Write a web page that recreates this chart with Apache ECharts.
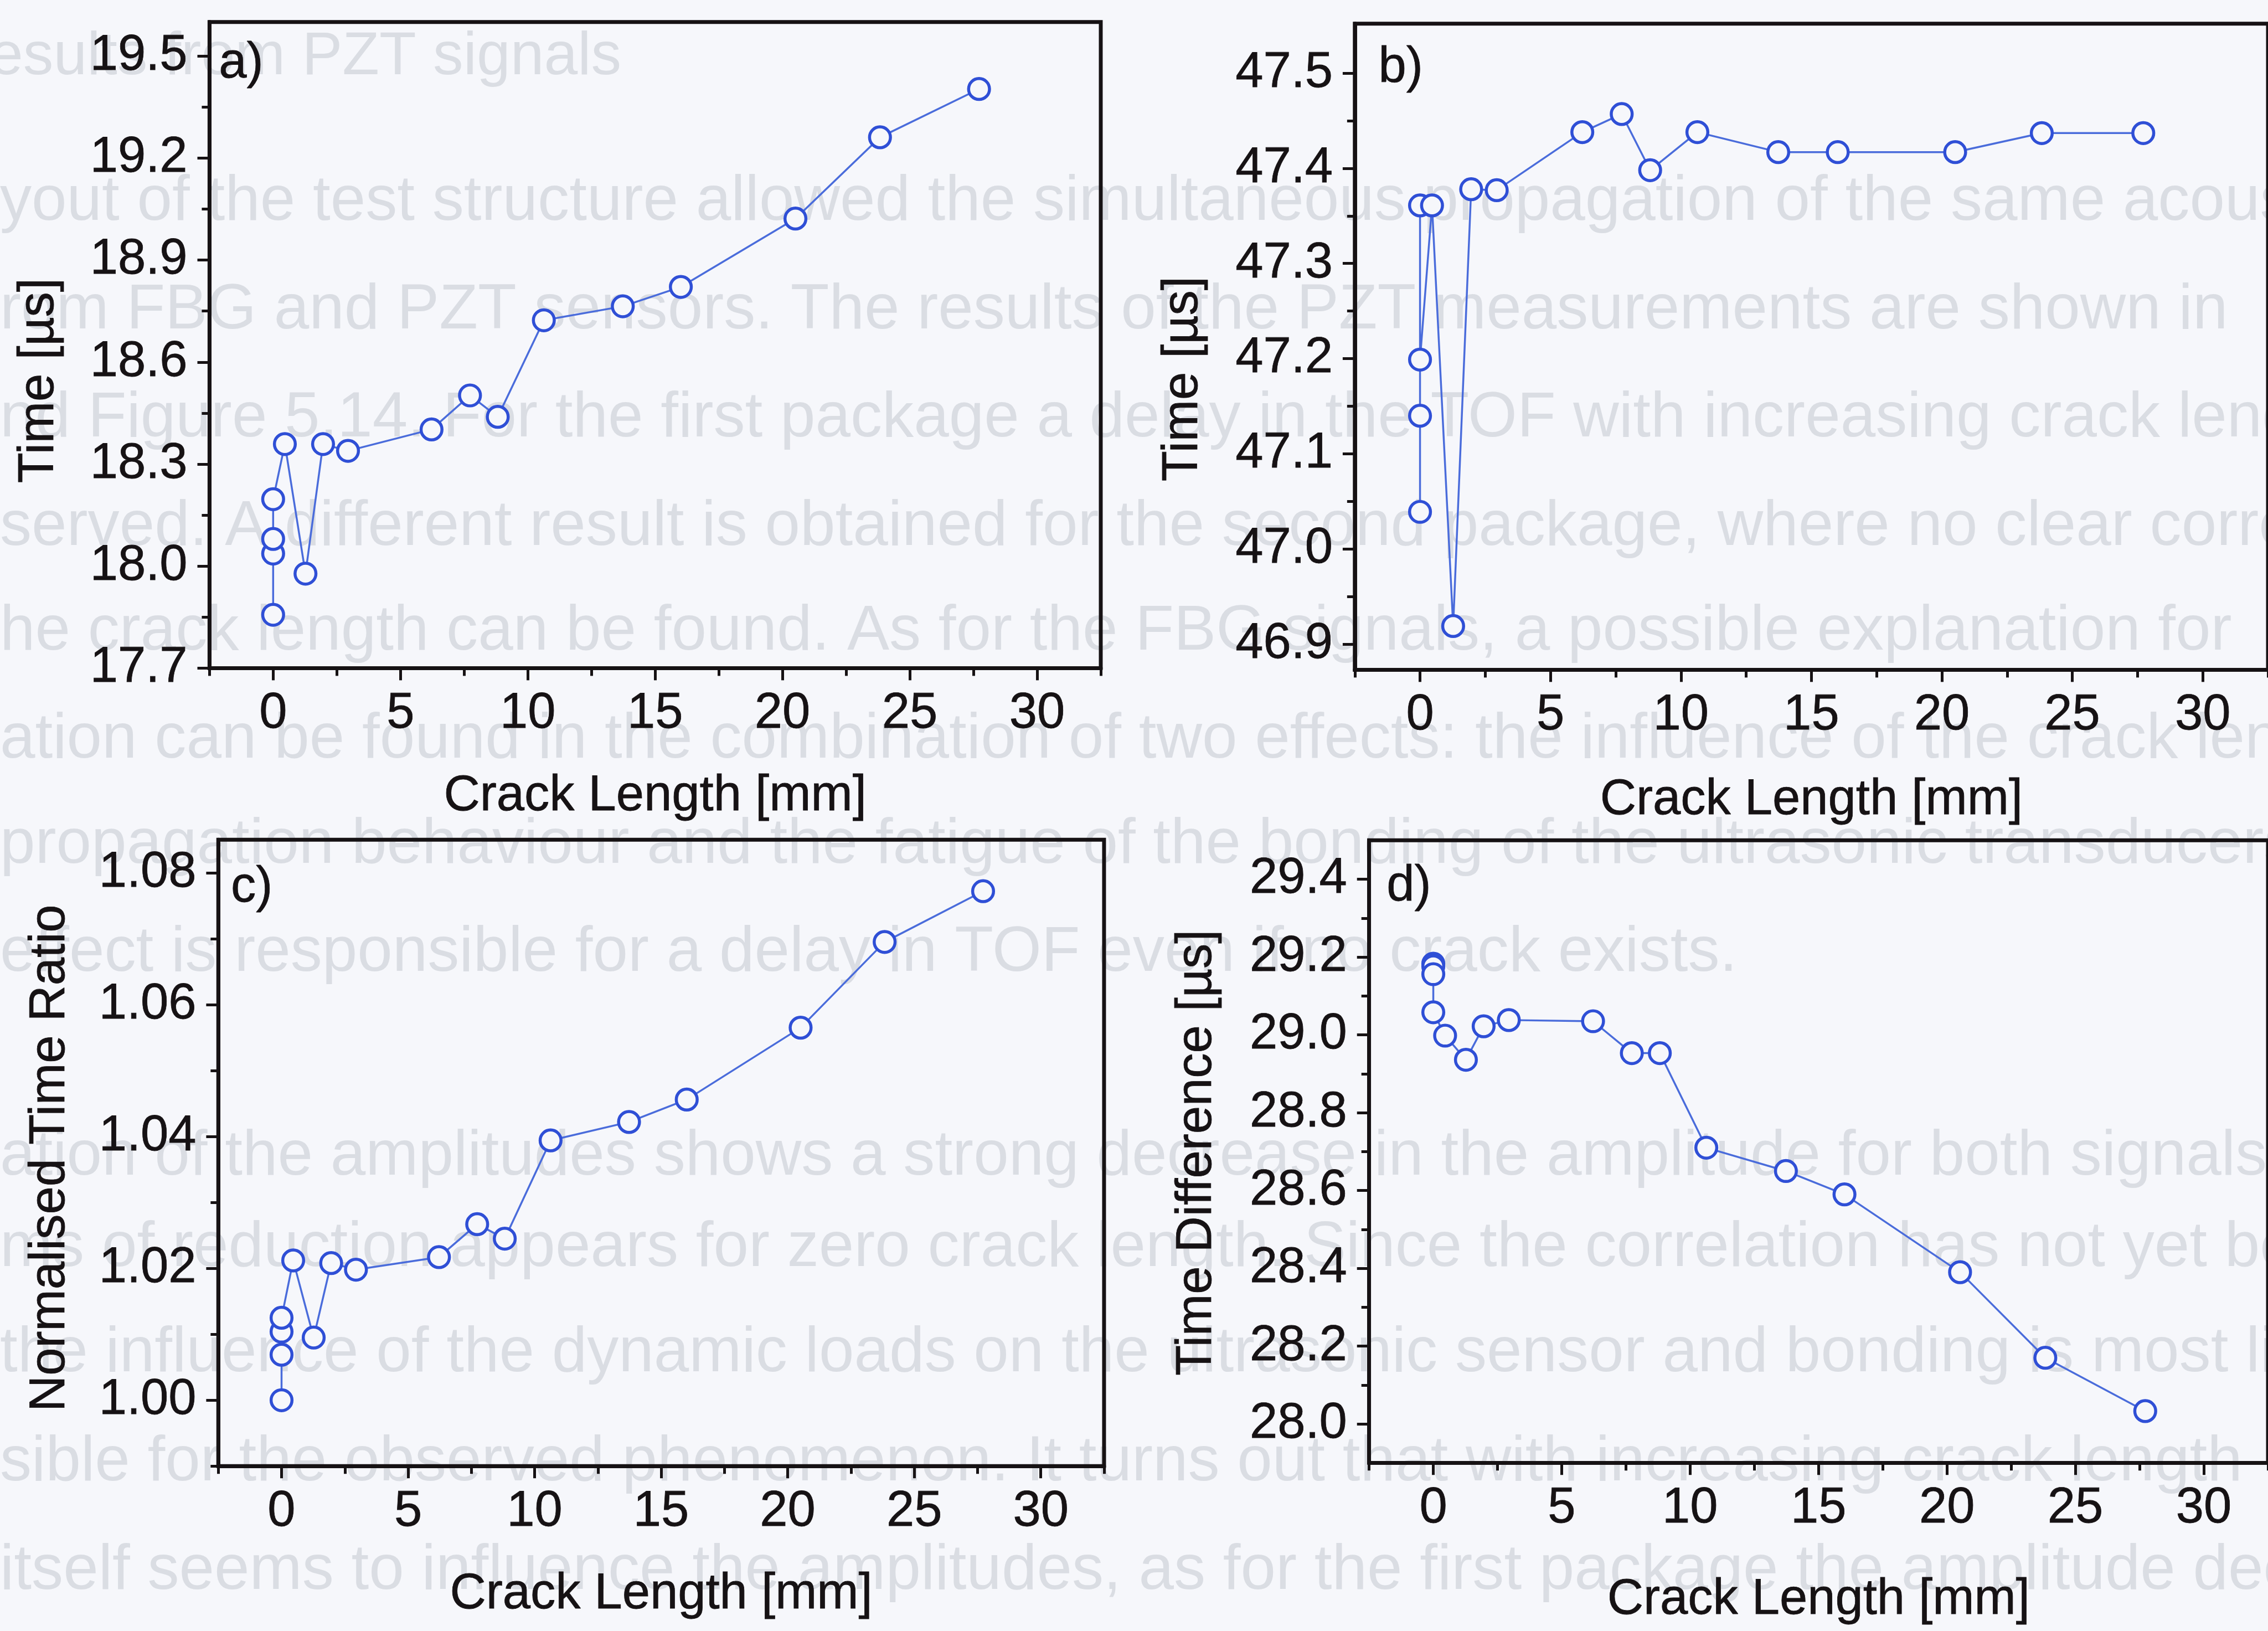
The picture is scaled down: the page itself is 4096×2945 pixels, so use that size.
<!DOCTYPE html>
<html>
<head>
<meta charset="utf-8">
<script src="https://cdn.jsdelivr.net/npm/echarts@6/dist/echarts.min.js"></script>
<style>
  html, body { margin: 0; padding: 0; background: #f6f7fb; }
  #chart { width: 4096px; height: 2945px; }
</style>
</head>
<body>
<div id="chart"></div>
<script>
// Crack length of each measurement [mm]
const crackLength = [0, 0, 0, 0, 0.46, 1.27, 1.96, 2.94, 6.22, 7.73, 8.82, 10.63, 13.73, 16.01, 20.51, 23.83, 27.72];

// a) time of flight, first package [µs]
const timePackage1 = [17.857, 18.037, 18.080, 18.197, 18.359, 17.978, 18.359, 18.339, 18.402, 18.502, 18.439, 18.723, 18.764, 18.821, 19.022, 19.261, 19.403];
// b) time of flight, second package [µs]
const timePackage2 = [47.039, 47.361, 47.140, 47.199, 47.361, 46.919, 47.378, 47.377, 47.438, 47.457, 47.398, 47.438, 47.417, 47.417, 47.417, 47.437, 47.437];
// c) normalised time ratio
const timeRatio = [1.0000, 1.0069, 1.0104, 1.0125, 1.0212, 1.0095, 1.0208, 1.0198, 1.0217, 1.0267, 1.0245, 1.0394, 1.0422, 1.0456, 1.0565, 1.0695, 1.0772];
// d) time difference between the packages [µs]
const timeDifference = [29.183, 29.176, 29.156, 29.058, 28.998, 28.936, 29.022, 29.038, 29.035, 28.953, 28.953, 28.71, 28.65, 28.59, 28.39, 28.17, 28.033];

// Tick values
const xTicks = [0, 5, 10, 15, 20, 25, 30];
const xMinorTicks = [-2.5, 2.5, 7.5, 12.5, 17.5, 22.5, 27.5, 32.5];
const yTicksA = [17.7, 18.0, 18.3, 18.6, 18.9, 19.2, 19.5];
const yMinorA = [17.85, 18.15, 18.45, 18.75, 19.05, 19.35];
const yTicksB = [46.9, 47.0, 47.1, 47.2, 47.3, 47.4, 47.5];
const yMinorB = [46.95, 47.05, 47.15, 47.25, 47.35, 47.45];
const yTicksC = [1.00, 1.02, 1.04, 1.06, 1.08];
const yMinorC = [0.99, 1.01, 1.03, 1.05, 1.07];
const yTicksD = [28.0, 28.2, 28.4, 28.6, 28.8, 29.0, 29.2, 29.4];
const yMinorD = [28.1, 28.3, 28.5, 28.7, 28.9, 29.1, 29.3];

// Page text printed underneath the figure
const pageLines = [
  'yout of the test structure allowed the simultaneous propagation of the same acoustic',
  'rom FBG and PZT sensors. The results of the PZT measurements are shown in',
  'nd Figure 5.14. For the first package a delay in the TOF with increasing crack length',
  'served. A different result is obtained for the second package, where no clear correlation',
  'he crack length can be found. As for the FBG signals, a possible explanation for',
  'ation can be found in the combination of two effects: the influence of the crack length',
  'propagation behaviour and the fatigue of the bonding of the ultrasonic transducers. The',
  'effect is responsible for a delay in TOF even if no crack exists.',
  'ation of the amplitudes shows a strong decrease in the amplitude for both signals.',
  'ms of reduction appears for zero crack length. Since the correlation has not yet been',
  'the influence of the dynamic loads on the ultrasonic sensor and bonding is most likely',
  'sible for the observed phenomenon. It turns out that with increasing crack length',
  'itself seems to influence the amplitudes, as for the first package the amplitude decrease'
];
const pageLineY = [368, 565, 762, 959, 1150, 1346, 1537, 1734, 2104, 2270, 2462, 2660, 2858];
const pageHeading = 'Results from PZT signals';

const S = 0.993;                      // drawing scale
const FONT = "'Liberation Sans', Arial, Helvetica, sans-serif";
const INK = '#161214';
const MARK = '#2f4fd6';
const LINE = '#4a6cdb';
const PAPER = '#f6f7fb';
const FS = 91;
const PAGE_INK = '#dadde3';

// Panel layout in base units: plot box [left, top, right, bottom]
const panels = [
  { tag: 'a)', y: timePackage1, yMin: 17.7, yMax: 19.6, ticks: yTicksA, minor: yMinorA, digits: 1,
    yName: 'Time [µs]', box: [381, 40, 2002, 1215], tagAt: [398, 116], yNameAt: [72, 692], nameGap: 188 },
  { tag: 'b)', y: timePackage2, yMin: 46.873, yMax: 47.552, ticks: yTicksB, minor: yMinorB, digits: 1,
    yName: 'Time [µs]', box: [2464, 43, 4133, 1218], tagAt: [2507, 124], yNameAt: [2152, 689], nameGap: 192 },
  { tag: 'c)', y: timeRatio, yMin: 0.99, yMax: 1.085, ticks: yTicksC, minor: yMinorC, digits: 2,
    yName: 'Normalised Time Ratio', box: [397, 1527, 2008, 2666], tagAt: [420, 1614], yNameAt: [92, 2106], nameGap: 188 },
  { tag: 'd)', y: timeDifference, yMin: 27.9, yMax: 29.5, ticks: yTicksD, minor: yMinorD, digits: 1,
    yName: 'Time Difference [µs]', box: [2490, 1528, 4145, 2660], tagAt: [2522, 1612], yNameAt: [2177, 2096], nameGap: 204 }
];

const textLook = { fontSize: FS * S, fontFamily: FONT, color: INK, textBorderColor: INK, textBorderWidth: 0.8 };
const grid = [], xAxis = [], yAxis = [], series = [], graphic = [];

// faint page text, drawn first so everything else sits on top
pageLines.forEach((line, k) => {
  graphic.push({
    type: 'text', x: 0, y: pageLineY[k] * S, z: -10, silent: true,
    style: { text: line, fontSize: 115 * S, fontFamily: FONT, fill: PAGE_INK, align: 'left', verticalAlign: 'middle' }
  });
});
graphic.push({
  type: 'text', x: 1130 * S, y: 105 * S, z: -10, silent: true,
  style: { text: pageHeading, fontSize: 110 * S, fontFamily: FONT, fill: PAGE_INK, align: 'right', verticalAlign: 'middle' }
});

panels.forEach((p, i) => {
  const [l, t, r, b] = p.box;
  grid.push({
    left: l * S, top: t * S, width: (r - l) * S, height: (b - t) * S,
    show: true, borderColor: INK, borderWidth: 7 * S, backgroundColor: 'transparent'
  });

  // main x axis with labels and major ticks
  xAxis.push({
    type: 'value', gridIndex: i, min: -2.5, max: 32.5, position: 'bottom',
    axisLine: { show: true, onZero: false, lineStyle: { color: INK, width: 7 * S } },
    axisTick: { show: true, customValues: xTicks, length: 22 * S, lineStyle: { color: INK, width: 5 * S } },
    axisLabel: Object.assign({ show: true, customValues: xTicks, margin: 38 * S }, textLook),
    splitLine: { show: false },
    name: 'Crack Length [mm]', nameLocation: 'middle', nameGap: p.nameGap * S,
    nameTextStyle: Object.assign({}, textLook)
  });
  // minor x ticks
  xAxis.push({
    type: 'value', gridIndex: i, min: -2.5, max: 32.5, position: 'bottom', offset: 0,
    axisLine: { show: false, onZero: false },
    axisTick: { show: true, customValues: xMinorTicks, length: 14 * S, lineStyle: { color: INK, width: 5 * S } },
    axisLabel: { show: false }, splitLine: { show: false }
  });

  // main y axis
  yAxis.push({
    type: 'value', gridIndex: i, min: p.yMin, max: p.yMax, position: 'left',
    axisLine: { show: true, onZero: false, lineStyle: { color: INK, width: 7 * S } },
    axisTick: { show: true, customValues: p.ticks, length: 22 * S, lineStyle: { color: INK, width: 5 * S } },
    axisLabel: Object.assign({
      show: true, customValues: p.ticks, margin: 40 * S,
      formatter: v => Number(v).toFixed(p.digits)
    }, textLook),
    splitLine: { show: false }
  });
  // minor y ticks
  yAxis.push({
    type: 'value', gridIndex: i, min: p.yMin, max: p.yMax, position: 'left', offset: 0,
    axisLine: { show: false, onZero: false },
    axisTick: { show: true, customValues: p.minor, length: 14 * S, lineStyle: { color: INK, width: 5 * S } },
    axisLabel: { show: false }, splitLine: { show: false }
  });

  // open circles joined by a thin line
  series.push({
    type: 'line', xAxisIndex: 2 * i, yAxisIndex: 2 * i,
    data: crackLength.map((x, k) => [x, p.y[k]]),
    symbol: 'circle', symbolSize: 38 * S, showSymbol: true,
    itemStyle: { color: PAPER, borderColor: MARK, borderWidth: 5.5 * S },
    lineStyle: { color: LINE, width: 3.5 * S },
    z: 3, animation: false
  });

  // panel tag
  graphic.push({
    type: 'text', x: p.tagAt[0] * S, y: p.tagAt[1] * S, z: 10,
    style: { text: p.tag, fontSize: FS * S, fontFamily: FONT, fill: INK, stroke: INK, lineWidth: 0.8,
             align: 'left', verticalAlign: 'middle' }
  });
  // y axis title, rotated
  graphic.push({
    type: 'text', x: p.yNameAt[0] * S, y: p.yNameAt[1] * S, rotation: Math.PI / 2, z: 10,
    style: { text: p.yName, fontSize: FS * S, fontFamily: FONT, fill: INK, stroke: INK, lineWidth: 0.8,
             align: 'center', verticalAlign: 'middle' }
  });
});

const chart = echarts.init(document.getElementById('chart'), null, { renderer: 'canvas' });
chart.setOption({
  backgroundColor: PAPER,
  animation: false,
  grid, xAxis, yAxis, series, graphic
});
</script>
</body>
</html>
